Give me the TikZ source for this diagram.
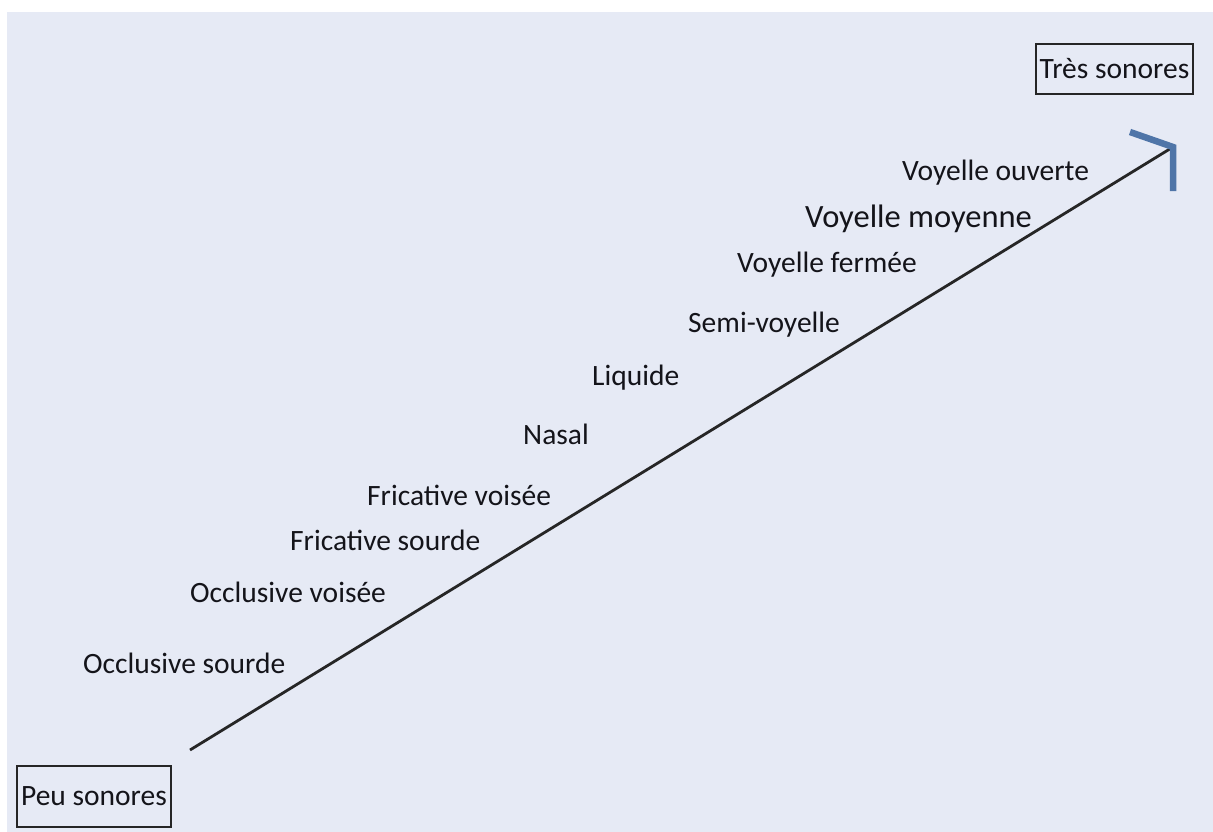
\documentclass[tikz,border=0pt]{standalone}
\usepackage{fontspec}
\setmainfont{Carlito}
\definecolor{bgblue}{RGB}{230,234,245}
\definecolor{arrowblue}{RGB}{79,117,168}
\definecolor{txt}{RGB}{20,20,26}
\begin{document}
\begin{tikzpicture}[x=1pt,y=-1pt,
  lbl/.style={anchor=base west,inner sep=0pt,text=txt,font=\fontsize{29.5}{32}\selectfont},
  bigl/.style={lbl,font=\fontsize{32.5}{35}\selectfont},
  endbox/.style={draw=black!85,line width=1.8pt,inner sep=0pt,text=txt,font=\fontsize{29.5}{32}\selectfont},
  scale line/.style={draw=black!85,line width=2.8pt},
  tip/.style={draw=arrowblue,line width=6.5pt,line cap=butt,line join=miter}]
\useasboundingbox (0,0) rectangle (1213,832);
\fill[white] (0,0) rectangle (1213,832);
\fill[bgblue] (7,12) rectangle (1213,832);
% end boxes
\node[endbox,minimum width=157pt,minimum height=50pt] (tres) at (1114.5,69) {Très sonores};
\node[endbox,minimum width=154pt,minimum height=61pt] (peu) at (94,796.5) {Peu sonores};
% scale line and its arrow head
\coordinate (start) at (190,750);
\coordinate (corner) at (1173,147);
\coordinate (tipA) at (1130,132);
\coordinate (tipB) at (1173,191);
\draw[scale line] (start) -- (corner);
\draw[tip] (tipA) -- (corner) -- (tipB);
% labels
\node[lbl] (os) at (83,673) {Occlusive sourde};
\node[lbl] (ov) at (190,602) {Occlusive voisée};
\node[lbl] (fs) at (290,550) {Fricative sourde};
\node[lbl] (fv) at (367,505) {Fricative voisée};
\node[lbl] (na) at (523,444) {Nasal};
\node[lbl] (li) at (592,385) {Liquide};
\node[lbl] (sv) at (688,332) {Semi-voyelle};
\node[lbl] (vf) at (737,272) {Voyelle fermée};
\node[bigl] (vm) at (805,227) {Voyelle moyenne};
\node[lbl] (vo) at (902,180) {Voyelle ouverte};
\end{tikzpicture}
\end{document}
